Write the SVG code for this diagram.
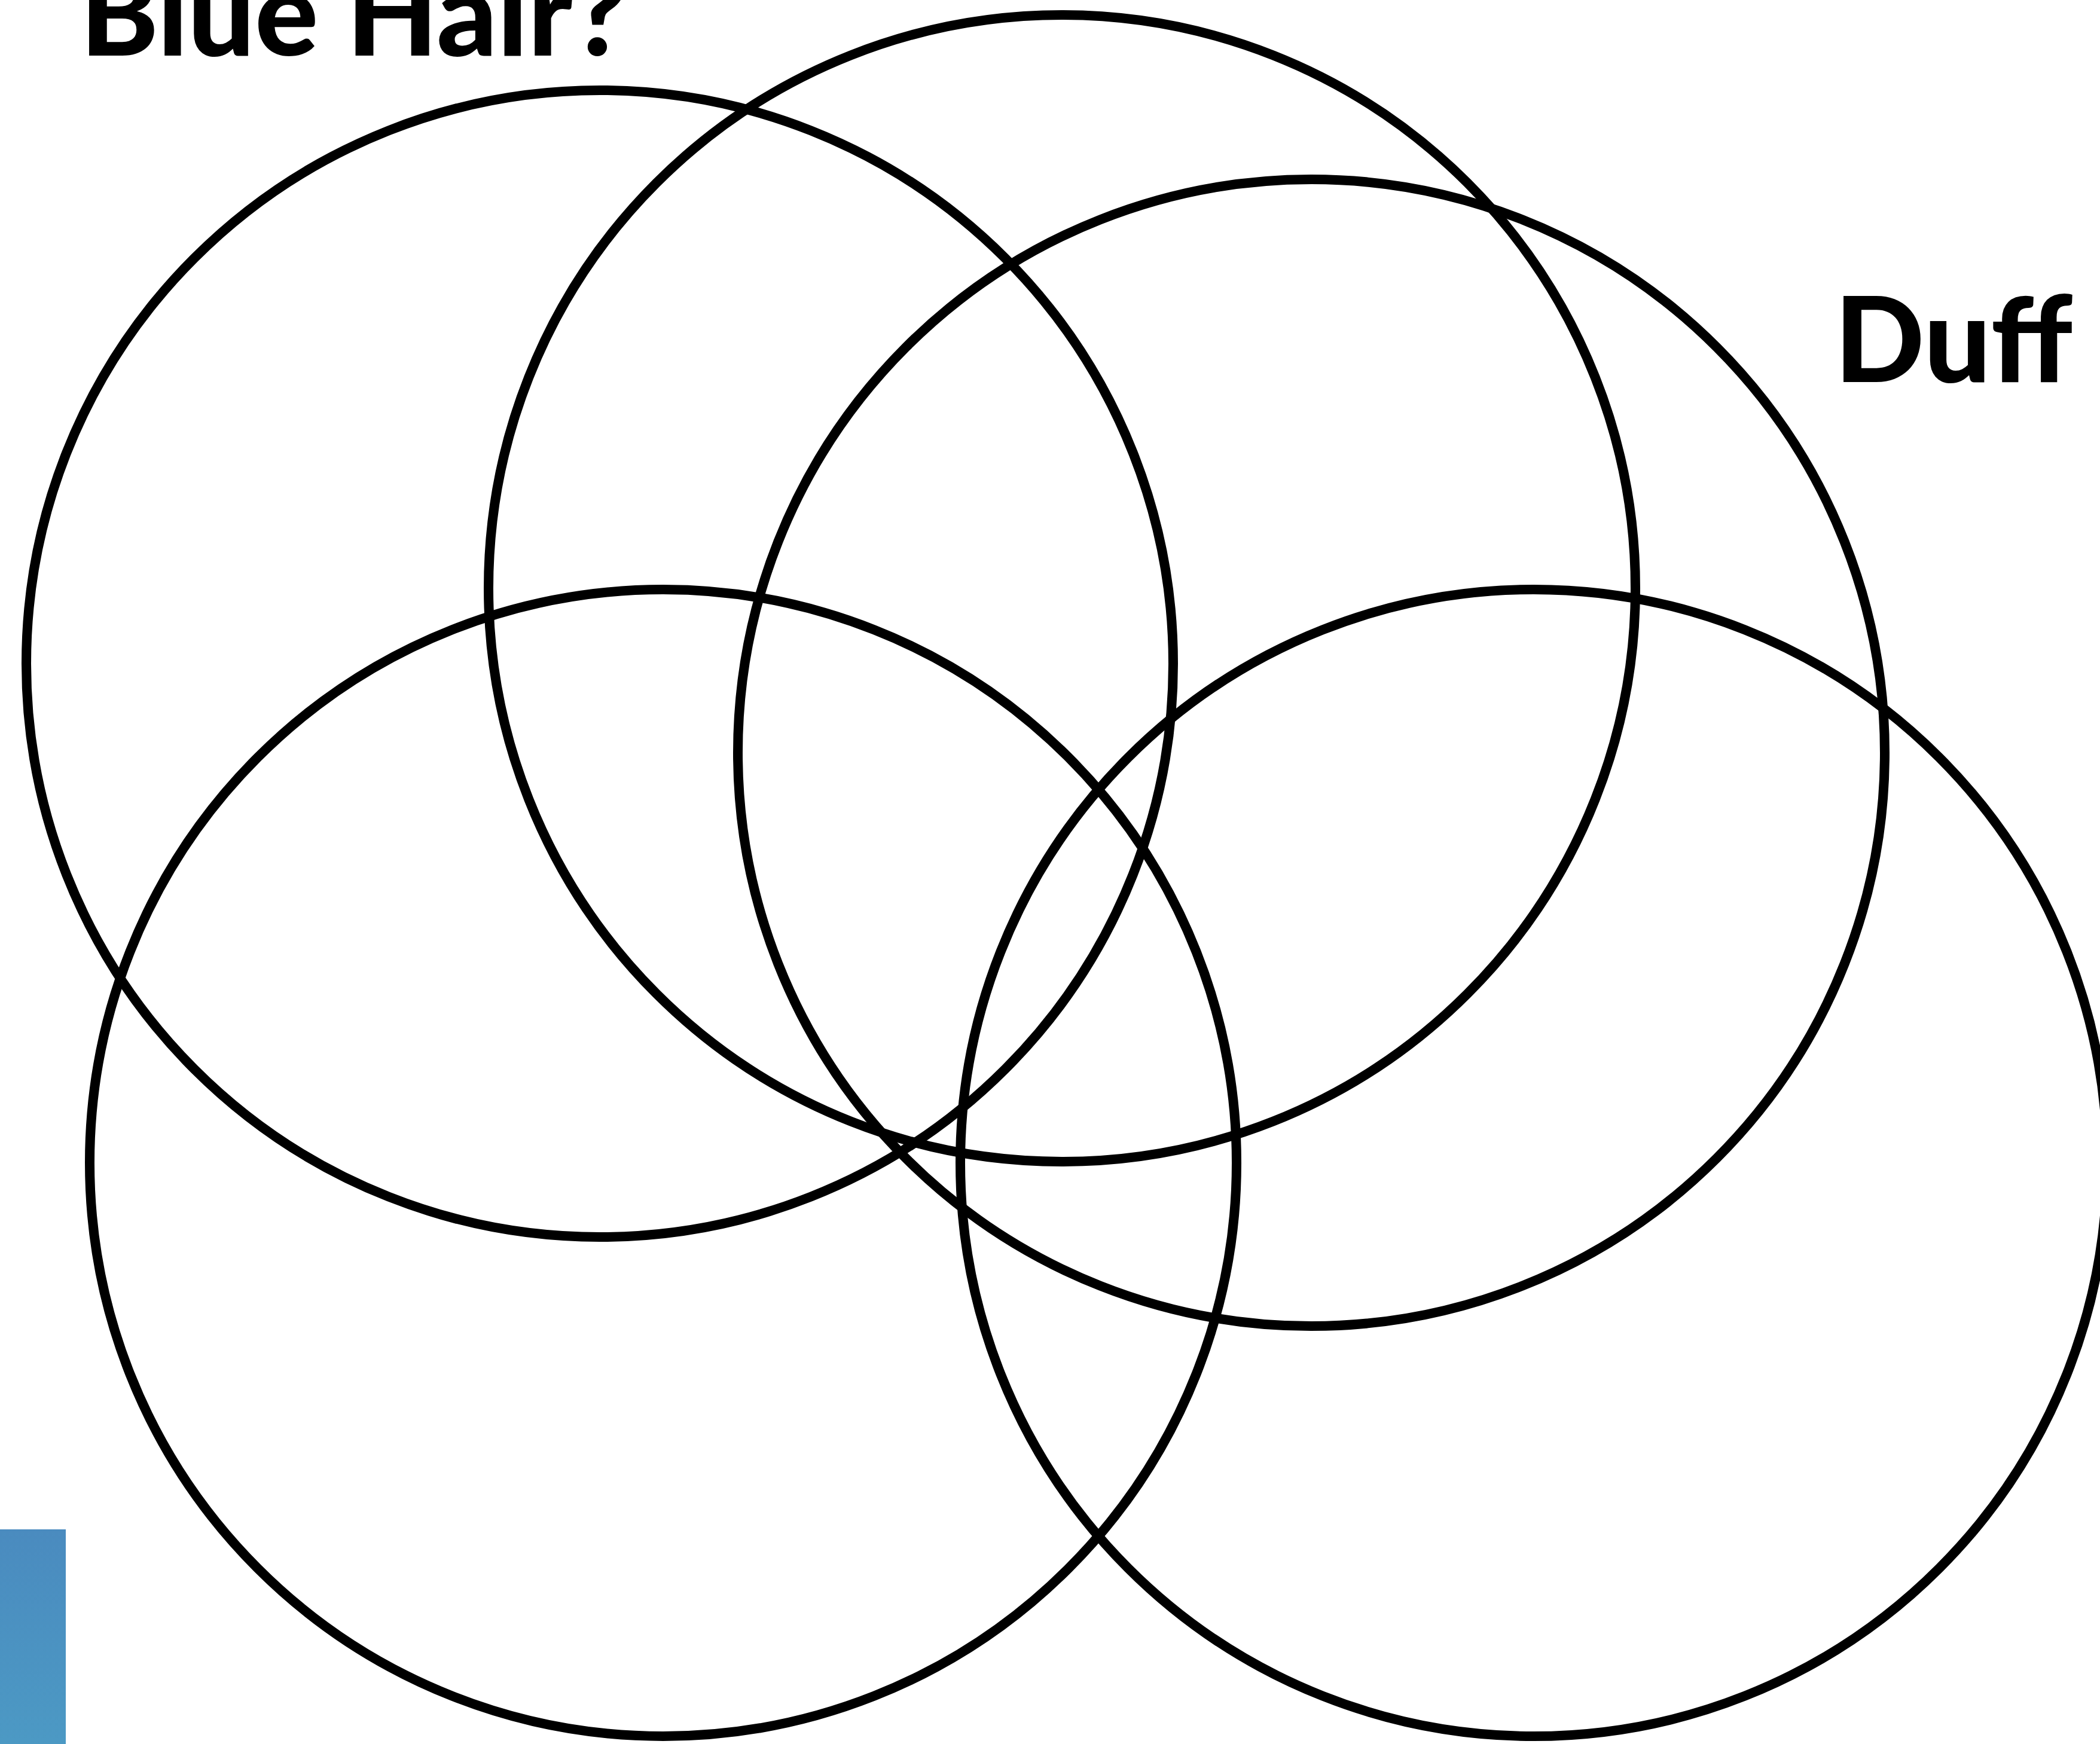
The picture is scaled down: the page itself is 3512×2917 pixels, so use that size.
<svg xmlns="http://www.w3.org/2000/svg" width="3512" height="2917" viewBox="0 0 3512 2917">
<defs>
<style>
.c{fill:none;stroke:#000;stroke-width:16}
.t{font-family:Lato,"Open Sans","Liberation Sans",sans-serif;font-weight:900;font-size:198px;fill:#000}
</style>
<linearGradient id="bg" x1="0" y1="0" x2="0" y2="1">
<stop offset="0" stop-color="#4a8bbf"/>
<stop offset="1" stop-color="#4c99c4"/>
</linearGradient>
</defs>
<rect width="3512" height="2917" fill="#fff"/>
<g id="circles">
<circle id="c1" class="c" cx="1003" cy="1110" r="959"/>
<circle id="c2" class="c" cx="1776" cy="984" r="959"/>
<circle id="c3" class="c" cx="2193" cy="1259" r="959"/>
<circle id="c4" class="c" cx="1109" cy="1945" r="959"/>
<circle id="c5" class="c" cx="2565" cy="1945" r="959"/>
</g>
<g id="labels">
<text class="t" x="134" y="93">Blue Hair?</text>
<text class="t" x="3068" y="639">Duff</text>
</g>
<rect id="bar" x="0" y="2558" width="110" height="359" fill="url(#bg)"/>
</svg>
